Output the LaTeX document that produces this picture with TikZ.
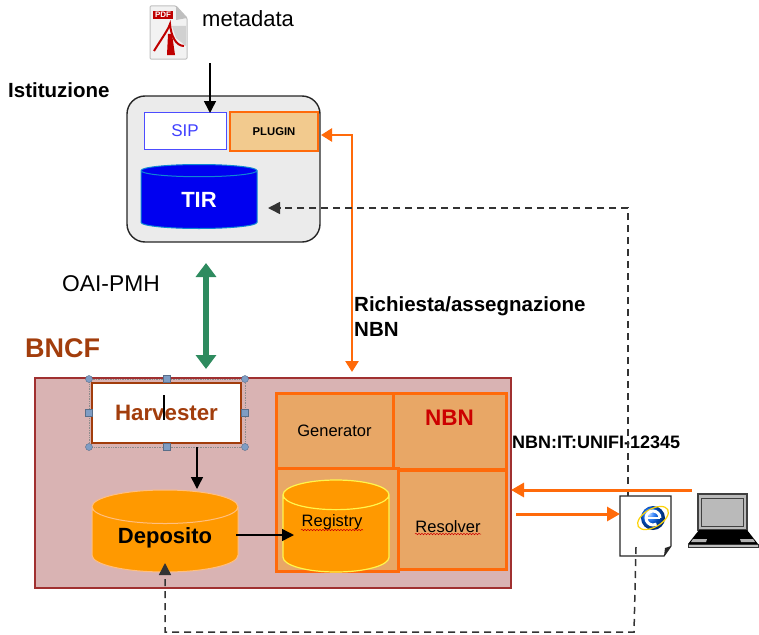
\documentclass[tikz,border=0pt]{standalone}
\usepackage{fontspec}
\setmainfont{Liberation Sans}
\usetikzlibrary{arrows.meta,shapes.geometric,shapes.misc,decorations.pathmorphing,calc}
\definecolor{panelgrey}{HTML}{EBEBEB}
\definecolor{plugfill}{HTML}{F2CA8E}
\definecolor{nbnorange}{HTML}{FF6A0A}
\definecolor{nbnfill}{HTML}{E8A766}
\definecolor{bncffill}{HTML}{D9B3B3}
\definecolor{bncfline}{HTML}{A03030}
\definecolor{brownred}{HTML}{A23D0C}
\definecolor{dbblue}{HTML}{0000F0}
\definecolor{dborange}{HTML}{FF9900}
\definecolor{oaigreen}{HTML}{2E8B5F}
\definecolor{handleblue}{HTML}{7F9DC4}
\tikzset{
  box/.style={draw,rectangle,inner sep=0pt,outer sep=0pt},
  nbnbox/.style={box,draw=nbnorange,line width=3pt,fill=nbnfill,font=\fontsize{16.5}{18}\selectfont},
  dbase/.style={cylinder,shape border rotate=90,inner sep=0pt,outer sep=0pt,cylinder uses custom fill,anchor=shape center},
  blackarrow/.style={draw=black,line width=1.5pt,-{Triangle[length=12pt,width=12pt]}},
  orangearrow/.style={draw=nbnorange,line width=3pt,-{Triangle[length=13pt,width=14pt]}},
  dashline/.style={draw=black!80,line width=1.5pt,dash pattern=on 7pt off 5pt},
  spellwave/.style={draw=red!80!black,line width=.5pt,decorate,decoration={snake,amplitude=.7pt,segment length=3pt}},
  handlec/.style={circle,draw=handleblue!70!black,fill=handleblue,inner sep=0pt,minimum size=7pt},
  handles/.style={rectangle,draw=handleblue!70!black,fill=handleblue,inner sep=0pt,minimum size=7pt},
}
\begin{document}
\begin{tikzpicture}[x=1pt,y=-1pt]
  \useasboundingbox (0,0) rectangle (759,634);

  % pdf icon
  \draw[black!25,fill=black!5,line width=1pt,rounded corners=1pt]
    (150,6) -- (176,6) -- (187,18) -- (187,59) -- (150,59) -- cycle;
  \fill[black!25] (176,6) -- (187,18) -- (176,20) -- cycle;
  \fill[black!18] (172,26) -- (186,26) -- (186,46) -- (176,38) -- cycle;
  \node[fill=red!75!black,text=white,font=\bfseries\fontsize{8}{9}\selectfont,inner sep=1pt,minimum width=20pt] (pdftag) at (163,15) {PDF};
  \draw[red!75!black,line width=2pt] (154,51) .. controls (162,38) and (168,30) .. (170,24)
    .. controls (171,36) and (176,46) .. (184,46);
  \fill[red!75!black] (168,34) -- (172,34) -- (175,55) -- (167,55) -- cycle;
  \node[anchor=west,inner sep=0pt,font=\fontsize{22}{24}\selectfont] (metadata) at (202,19) {metadata};
  \node[anchor=west,inner sep=0pt,font=\bfseries\fontsize{20.5}{22}\selectfont] (istituzione) at (8,90) {Istituzione};

  % istituzione
  \node[box,draw=black!85,line width=1.4pt,fill=panelgrey,rounded corners=18pt,minimum width=193pt,minimum height=146pt] (inst) at (223.5,169) {};
  \node[box,draw=blue!70,line width=1pt,fill=white,text=blue!75,minimum width=82pt,minimum height=37pt,font=\fontsize{17}{18}\selectfont] (sip) at (185,130.5) {SIP};
  \node[box,draw=nbnorange,line width=1.8pt,fill=plugfill,minimum width=88pt,minimum height=39pt,font=\bfseries\fontsize{11.3}{12}\selectfont] (plugin) at (274,131.5) {PLUGIN};
  \node[dbase,draw=cyan!70!blue,line width=1pt,cylinder body fill=dbblue,cylinder end fill=dbblue,text=white,aspect=.345,minimum width=116pt,minimum height=64pt,font=\bfseries\fontsize{22}{24}\selectfont] (tir) at (199,196.5) {TIR};

  % bncf
  \node[anchor=west,inner sep=0pt,text=brownred,font=\bfseries\fontsize{27}{29}\selectfont] (bncflabel) at (25,348) {BNCF};
  \node[box,draw=bncfline,line width=1.3pt,fill=bncffill,minimum width=476pt,minimum height=210pt] (bncf) at (273,483) {};
  \node[anchor=west,inner sep=0pt,font=\fontsize{22.8}{24}\selectfont] (oai) at (62,284) {OAI-PMH};
  \node[anchor=north west,inner sep=0pt,font=\bfseries\fontsize{20.5}{25}\selectfont,align=left] (richiesta) at (354,296) {Richiesta/assegnazione\\NBN};

  % harvester
  \node[box,draw=brownred,line width=2.4pt,fill=white,text=brownred,minimum width=149pt,minimum height=60pt,font=\bfseries\fontsize{22.3}{24}\selectfont] (harvester) at (166.5,413) {Harvester};
  \draw[black,line width=1.2pt] (164,395) -- (164,420);
  \draw[black!45,line width=.7pt,densely dotted] (89,379) rectangle (245,447);
  \foreach \hx/\hy in {89/379,245/379,89/447,245/447}
    \node[handlec] at (\hx,\hy) {};
  \foreach \hx/\hy in {167/379,167/447,89/413,245/413}
    \node[handles] at (\hx,\hy) {};
  \node[dbase,draw=orange!50!white,line width=1pt,cylinder body fill=dborange,cylinder end fill=dborange,aspect=.356,text depth=8pt,minimum width=146pt,minimum height=82pt,font=\bfseries\fontsize{22}{24}\selectfont] (deposito) at (165,531) {Deposito};

  % nbn
  \node[nbnbox,minimum width=117pt,minimum height=75pt] (generator) at (334.5,430.5) {Generator};
  \node[nbnbox,minimum width=113pt,minimum height=76pt,text=red!80!black,text depth=26pt,font=\bfseries\fontsize{22.5}{24}\selectfont] (nbn) at (449.5,431) {NBN};
  \node[nbnbox,minimum width=122pt,minimum height=103pt] (registrybox) at (337,519.5) {};
  \node[nbnbox,minimum width=108pt,minimum height=99pt] (resolver) at (452,519.5) {};
  \node[inner sep=0pt,font=\fontsize{16.5}{18}\selectfont] (resolvertext) at (448,527) {Resolver};
  \draw[spellwave] (415,534) -- (481,534);
  \node[dbase,draw=yellow!70!white,line width=1.2pt,cylinder body fill=dborange,cylinder end fill=dborange,aspect=.49,minimum width=106pt,minimum height=92pt,font=\fontsize{16.5}{18}\selectfont] (registrydb) at (336,526) {\phantom{Registry}};
  \node[inner sep=0pt,font=\fontsize{16.5}{18}\selectfont] (registry) at (332,522) {Registry};
  \draw[spellwave] (301,530) -- (363,530);

  \node[anchor=west,inner sep=0pt,font=\bfseries\fontsize{18}{20}\selectfont] (nbnit) at (512,442) {NBN:IT:UNIFI-12345};

  % page with browser icon
  \draw[black!85,line width=1.2pt,fill=white] (620,496) -- (671,496) -- (671,546) -- (664,556) -- (620,556) -- cycle;
  \fill[black!85] (664,556) -- (671,546) -- (665,548) -- cycle;
  \coordinate (page) at (620,514);
  \coordinate (pagetop) at (628,496);
  \coordinate (pagefoot) at (636,547);
  \shade[ball color=blue!60!cyan] (653,518) circle (12pt);
  \draw[yellow!70!orange,line width=1.2pt,rotate around={30:(653,518)}] (653,518) ellipse (17pt and 9pt);
  \draw[white,line width=2.4pt] (646,518) -- (660,518);
  \draw[white,line width=3pt] (660,518) arc[start angle=0,end angle=300,radius=7pt];

  % laptop
  \node[box,draw=black!75,line width=2pt,fill=black!27,minimum width=49pt,minimum height=36pt] (screen) at (722.5,512) {};
  \draw[black!75,line width=1pt] (701.5,498) rectangle (743.5,526);
  \fill[black] (699,530) -- (747,530) -- (758,544) -- (688,544) -- cycle;
  \fill[black!30] (693,539) -- (707,539) -- (706,542) -- (691,542) -- cycle
                  (740,539) -- (753,539) -- (755,542) -- (741,542) -- cycle;
  \draw[black!80,line width=1pt,fill=black!25] (688,544) rectangle (758,547.5);

  % connectors
  \coordinate (pdffoot) at (210,63);
  \coordinate (siptop) at (210,113);
  \draw[blackarrow] (pdffoot) -- (siptop);
  \coordinate (oaitop) at (206,263);
  \coordinate (oaifoot) at (206,369);
  \draw[draw=oaigreen,line width=6pt,{Triangle[length=14pt,width=20pt]}-{Triangle[length=14pt,width=20pt]}] (oaitop) -- (oaifoot);
  \coordinate (plugtip) at (321,135);
  \coordinate (bncftop) at (352,372);
  \draw[draw=nbnorange,line width=2.6pt,{Triangle[length=11pt,width=13pt]}-{Triangle[length=11pt,width=13pt]}] (plugtip) -| (bncftop);
  \coordinate (tirtip) at (268,208);
  \draw[dashline,-{Triangle[length=12pt,width=12pt]}] (pagetop) |- (tirtip);
  \coordinate (harvfoot) at (197,447);
  \coordinate (depotop) at (197,489);
  \draw[blackarrow] (harvfoot) -- (depotop);
  \coordinate (deporight) at (236,535);
  \coordinate (regleft) at (294,535);
  \draw[blackarrow] (deporight) -- (regleft);
  \coordinate (laptopleft) at (692,490);
  \coordinate (bncfright) at (511,490);
  \draw[orangearrow] (laptopleft) -- (bncfright);
  \coordinate (bncfout) at (516,514);
  \draw[orangearrow] (bncfout) -- (page);
  \coordinate (depofoot) at (165,563);
  \draw[dashline,-{Triangle[length=12pt,width=12pt]}] (pagefoot) -- (634,632) -| (depofoot);
\end{tikzpicture}
\end{document}
